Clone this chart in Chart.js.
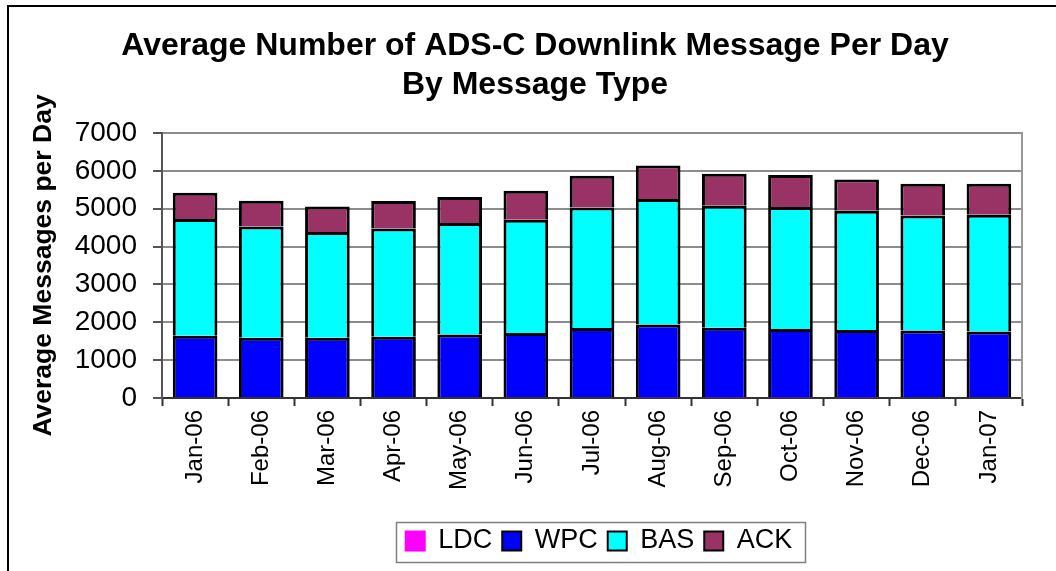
<!DOCTYPE html>
<html>
<head>
<meta charset="utf-8">
<title>ADS-C Downlink Messages</title>
<script src="https://cdn.jsdelivr.net/npm/chart.js@4"></script>
<style>
  html, body { margin: 0; padding: 0; background: #fff; }
  canvas { display: block; }
</style>
</head>
<body>
<canvas id="chart" width="1056" height="571"></canvas>
<script>
// Monthly averages of ADS-C downlink messages per day, split by message type
const months = ['Jan-06', 'Feb-06', 'Mar-06', 'Apr-06', 'May-06', 'Jun-06', 'Jul-06',
                'Aug-06', 'Sep-06', 'Oct-06', 'Nov-06', 'Dec-06', 'Jan-07'];
const ldc = [0, 0, 0, 0, 0, 0, 0, 10, 10, 10, 10, 0, 0];
const wpc = [1646, 1593, 1593, 1619, 1680, 1717, 1849, 1934, 1847, 1812, 1786, 1786, 1759];
const bas = [3082, 2940, 2792, 2861, 2942, 2992, 3185, 3312, 3222, 3223, 3151, 3037, 3082];
const ack = [695, 678, 676, 723, 687, 766, 837, 888, 845, 845, 827, 837, 819];
const yTicks = [0, 1000, 2000, 3000, 4000, 5000, 6000, 7000];

const FONT = "'Liberation Sans', Arial, Helvetica, sans-serif";
const PLOT_BOTTOM = 398, PLOT_LEFT = 162, PLOT_RIGHT = 1022;
const LEGEND_CENTER_X = 599, LEGEND_CENTER_Y = 541;

// Outer frame, legend placement and legend outline
const decor = {
  id: 'decor',
  afterLayout(chart) {
    const lg = chart.legend;
    if (!lg) return;
    const dx = LEGEND_CENTER_X - (lg.left + lg.right) / 2;
    lg.left += dx; lg.right += dx;
    const itemH = lg.legendHitBoxes && lg.legendHitBoxes.length ? lg.legendHitBoxes[0].height : 26;
    const dy = LEGEND_CENTER_Y - (lg.top + 10 + itemH / 2);
    lg.top += dy; lg.bottom += dy;
  },
  afterDraw(chart) {
    const ctx = chart.ctx;
    ctx.save();
    const boxes = chart.legend && chart.legend.legendHitBoxes;
    if (boxes && boxes.length) {
      let l = Infinity, r = -Infinity, t = Infinity, b = -Infinity;
      boxes.forEach(h => {
        l = Math.min(l, h.left); r = Math.max(r, h.left + h.width);
        t = Math.min(t, h.top); b = Math.max(b, h.top + h.height);
      });
      ctx.strokeStyle = '#7f7f7f';
      ctx.lineWidth = 1.5;
      ctx.strokeRect(Math.round(l - 10) + 0.5, Math.round(t - 6) + 0.5,
                     Math.round(r - l + 22), Math.round(b - t + 13));
    }
    ctx.strokeStyle = '#000';
    ctx.lineWidth = 2;
    ctx.beginPath();
    ctx.moveTo(8, 571);
    ctx.lineTo(8, 6);
    ctx.lineTo(1056, 6);
    ctx.stroke();
    ctx.restore();
  }
};

const series = [
  { label: 'LDC', data: ldc, bg: '#FF00FF', border: '#FF00FF' },
  { label: 'WPC', data: wpc, bg: '#0000FF', border: '#000000' },
  { label: 'BAS', data: bas, bg: '#00FFFF', border: '#000000' },
  { label: 'ACK', data: ack, bg: '#993366', border: '#000000' }
];

new Chart(document.getElementById('chart'), {
  type: 'bar',
  data: {
    labels: months,
    datasets: series.map(s => ({
      label: s.label,
      data: s.data,
      backgroundColor: s.bg,
      borderColor: s.border,
      borderWidth: 3,
      borderSkipped: 'start',
      inflateAmount: 0,
      categoryPercentage: 1,
      barPercentage: 0.675,
      stack: 'all',
      yAxisID: 'y'
    }))
  },
  options: {
    responsive: false,
    animation: false,
    devicePixelRatio: 1,
    layout: { padding: { left: 14, right: 0, top: 0, bottom: 0 } },
    plugins: {
      tooltip: { enabled: false },
      title: {
        display: true,
        text: ['Average Number of ADS-C Downlink Message Per Day', 'By Message Type'],
        color: '#000',
        font: { family: FONT, size: 32, weight: 'bold', lineHeight: 39 / 32 },
        padding: { top: 27, bottom: 28 }
      },
      legend: {
        display: true,
        position: 'bottom',
        labels: {
          color: '#000',
          font: { family: FONT, size: 27 },
          boxWidth: 19,
          boxHeight: 19,
          padding: 10,
          generateLabels(chart) {
            const items = Chart.defaults.plugins.legend.labels.generateLabels(chart);
            items.forEach(it => { it.lineWidth = 2; });
            return items;
          }
        }
      }
    },
    scales: {
      x: {
        stacked: true,
        offset: true,
        grid: {
          display: true,
          drawOnChartArea: false,
          drawTicks: true,
          tickLength: 8,
          tickWidth: 2,
          tickColor: '#333',
          offset: true
        },
        border: { display: true, color: '#333', width: 2 },
        ticks: {
          autoSkip: false,
          maxRotation: 90,
          minRotation: 90,
          padding: 4,
          color: '#000',
          font: { family: FONT, size: 24 }
        },
        afterFit(scale) {
          const lg = scale.chart.legend;
          const lh = lg && lg.height ? lg.height : 46;
          scale.height = 571 - lh - PLOT_BOTTOM;
        }
      },
      y: {
        stacked: true,
        position: 'left',
        min: 0,
        max: 7000,
        afterBuildTicks(scale) { scale.ticks = yTicks.map(v => ({ value: v })); },
        grid: {
          color: '#8c8c8c',
          lineWidth: 2,
          tickLength: 9,
          tickWidth: 2,
          tickColor: '#555'
        },
        border: { display: true, color: '#555', width: 2 },
        ticks: {
          padding: 16,
          color: '#000',
          font: { family: FONT, size: 28 },
          callback: v => String(v)
        },
        title: {
          display: true,
          text: 'Average Messages per Day',
          color: '#000',
          font: { family: FONT, size: 26.5, weight: 'bold', lineHeight: 1.2 },
          padding: { top: 14, bottom: 0 }
        },
        afterFit(scale) { scale.width = PLOT_LEFT - 14; }
      },
      yRight: {
        position: 'right',
        display: true,
        min: 0,
        max: 7000,
        grid: { display: false, drawTicks: false },
        ticks: { display: false },
        border: { display: true, color: '#999', width: 2 },
        afterFit(scale) { scale.width = 1056 - PLOT_RIGHT; }
      }
    }
  },
  plugins: [decor]
});
</script>
</body>
</html>
